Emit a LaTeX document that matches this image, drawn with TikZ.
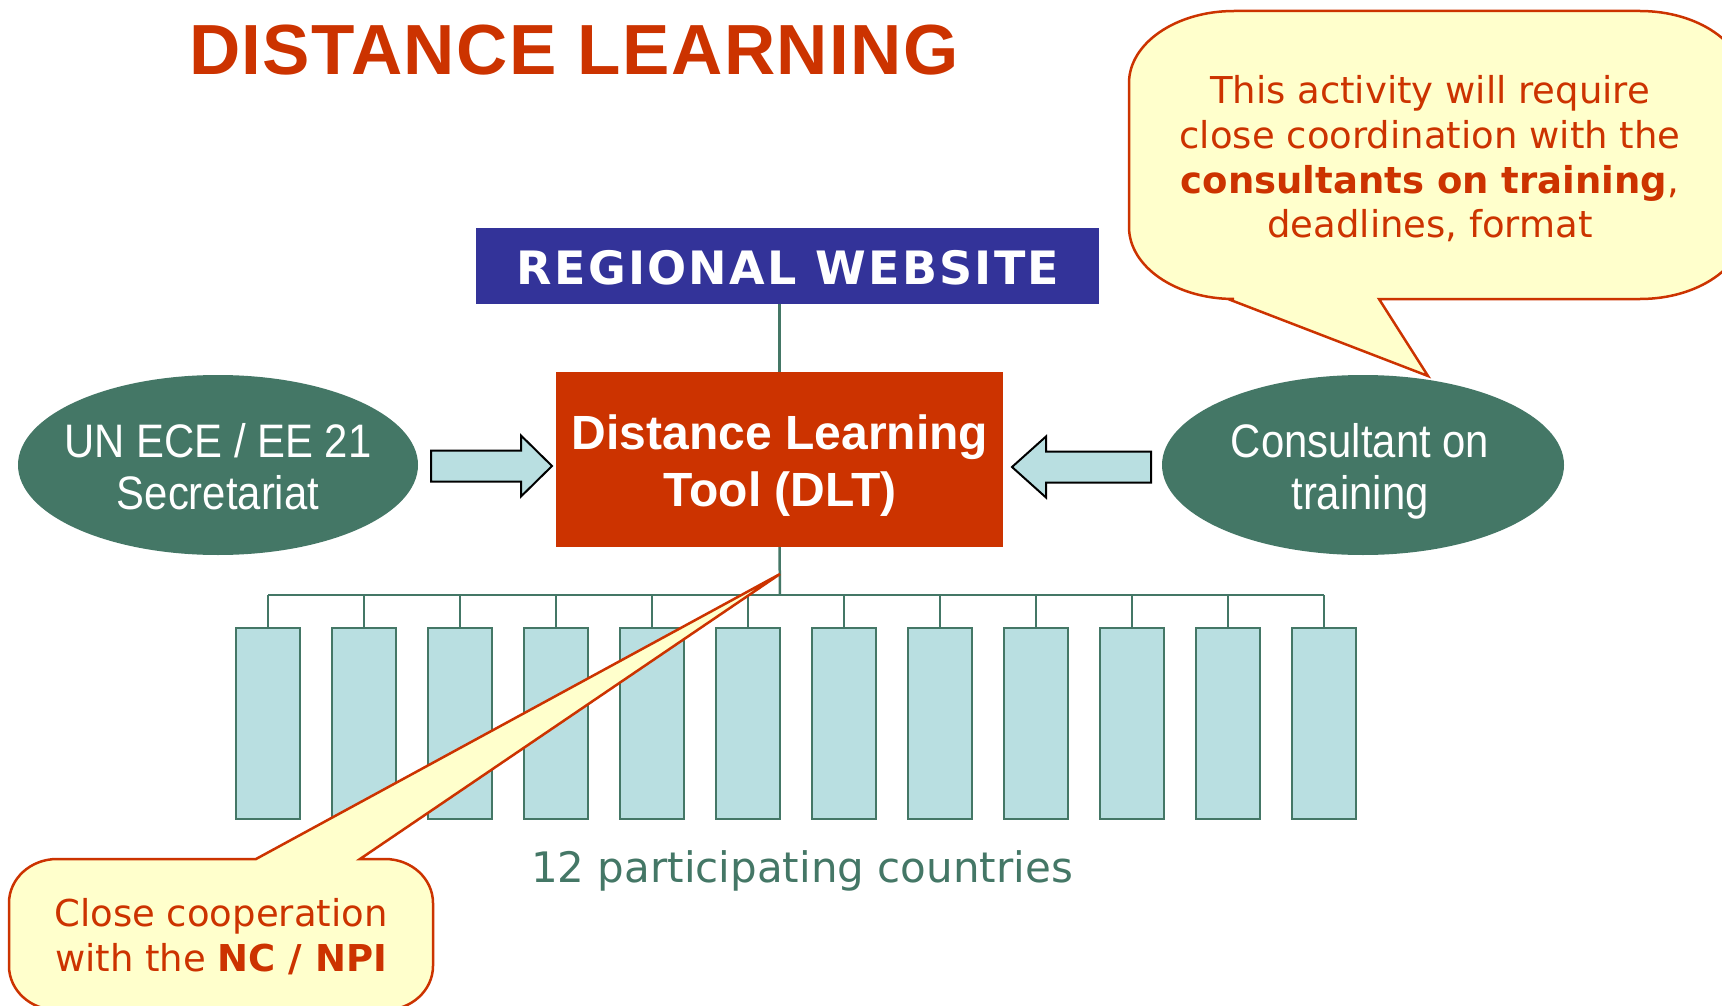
\documentclass[tikz,border=0pt]{standalone}
\usepackage{fontspec}
\setmainfont{DejaVu Sans}
\newfontfamily\arialf{Liberation Sans}
\newfontfamily\titlef[LetterSpace=2]{Liberation Sans}
\newfontfamily\verdf{DejaVu Sans}
\newfontfamily\webf[LetterSpace=5]{DejaVu Sans}
\usetikzlibrary{shapes.geometric,calc}
\definecolor{rust}{RGB}{204,51,0}
\definecolor{dkgreen}{RGB}{68,119,102}
\definecolor{navy}{RGB}{51,51,153}
\definecolor{lcyan}{RGB}{185,223,225}
\definecolor{cream}{RGB}{255,255,204}
\newcommand{\ctext}[1]{\scalebox{0.89}[1]{\begin{tabular}{@{}c@{}}#1\end{tabular}}}
\tikzset{
  gline/.style={draw=dkgreen, line width=2.5pt},
  cbox/.style={draw=dkgreen, line width=2.5pt, fill=lcyan, minimum width=64pt, minimum height=191pt, inner sep=0pt},
  oval/.style={ellipse, fill=dkgreen, minimum width=400pt, minimum height=180pt, inner sep=0pt},
  ovaltext/.style={text=white, inner sep=0pt, font=\arialf\fontsize{47}{52}\selectfont},
  blockarrow/.style={draw=black, fill=lcyan, line width=2pt, line join=miter},
  callout/.style={draw=rust, fill=cream, line width=2.5pt, line join=miter},
  calltext/.style={text=rust, align=center, font=\verdf\fontsize{37}{44.7}\selectfont, inner sep=0pt},
}
\begin{document}
\begin{tikzpicture}[x=1pt,y=-1pt]
\useasboundingbox (0,0) rectangle (1722,1006);
\clip (0,0) rectangle (1722,1006);
\fill[white] (0,0) rectangle (1722,1006);

% title
\node[anchor=base west, inner sep=0pt, text=rust, font=\titlef\bfseries\fontsize{71}{80}\selectfont] (title) at (189,75) {DISTANCE LEARNING};

% regional website
\node[fill=navy, minimum width=623pt, minimum height=76pt, inner sep=0pt] (web) at (787.5,266) {};
\node[text=white, inner sep=0pt, font=\webf\bfseries\fontsize{46}{50}\selectfont] (webt) at (788,268) {REGIONAL WEBSITE};

% DLT
\node[fill=rust, minimum width=447pt, minimum height=175pt, inner sep=0pt] (dlt) at (779.5,459.5) {};
\node[text=white, align=center, inner sep=0pt, font=\arialf\bfseries\fontsize{48}{57}\selectfont] (dltt) at (780,466) {Distance Learning\\Tool (DLT)};

\draw[gline] (dlt.north) -- (dlt.north |- web.south);

% ellipses
\node[oval] (uned) at (218,465) {};
\node[ovaltext] (unedt) at (218,473) {\ctext{UN ECE / EE 21\\Secretariat}};
\node[oval, minimum width=402pt] (cons) at (1363,465) {};
\node[ovaltext] (const) at (1360,473) {\ctext{Consultant on\\training}};

% block arrows
\draw[blockarrow] (431,450.5) -- (521,450.5) -- (521,435.5) -- (552,466) -- (521,496.5) -- (521,481.5) -- (431,481.5) -- cycle;
\draw[blockarrow] (1151,451.5) -- (1046,451.5) -- (1046,436.5) -- (1012,467) -- (1046,497.5) -- (1046,482.5) -- (1151,482.5) -- cycle;

% countries
\coordinate (bus) at (780,595);
\foreach \i in {0,...,11} {
  \node[cbox] (c\i) at ({268+96*\i},723.5) {};
  \draw[gline] (c\i.north) -- (c\i.north |- bus);
}
\draw[gline] (c0.north |- bus) -- (c11.north |- bus);
\draw[gline] (dlt.south) -- (bus);

\node[text=dkgreen, font=\verdf\fontsize{42}{48}\selectfont, inner sep=0pt] (lbl) at (802,871) {12 participating countries};

% callout top right
\coordinate (tipA) at (1428,376);
\draw[callout] (1129,83) arc[start angle=180,end angle=90,x radius=105pt,y radius=72pt]
  -- (1640,11) arc[start angle=90,end angle=0,x radius=105pt,y radius=72pt]
  -- (1745,227) arc[start angle=0,end angle=-90,x radius=105pt,y radius=72pt]
  -- (1379,299) -- (tipA) -- (1228,299) -- (1234,299)
  arc[start angle=270,end angle=180,x radius=105pt,y radius=72pt] -- cycle;
\node[calltext] (noteA) at (1430,159) {This activity will require\\close coordination with the\\\textbf{consultants on training},\\deadlines, format};

% callout bottom left
\coordinate (tipB) at (780,574);
\draw[callout] (9,903) arc[start angle=180,end angle=90,x radius=48pt,y radius=44pt]
  -- (256,859) -- (tipB) -- (360,859) -- (385,859)
  arc[start angle=90,end angle=0,x radius=48pt,y radius=44pt]
  -- (433,966) arc[start angle=0,end angle=-90,x radius=48pt,y radius=44pt]
  -- (57,1010) arc[start angle=270,end angle=180,x radius=48pt,y radius=44pt] -- cycle;
\node[calltext] (noteB) at (221,937) {Close cooperation\\with the \textbf{NC / NPI}};
\end{tikzpicture}
\end{document}
